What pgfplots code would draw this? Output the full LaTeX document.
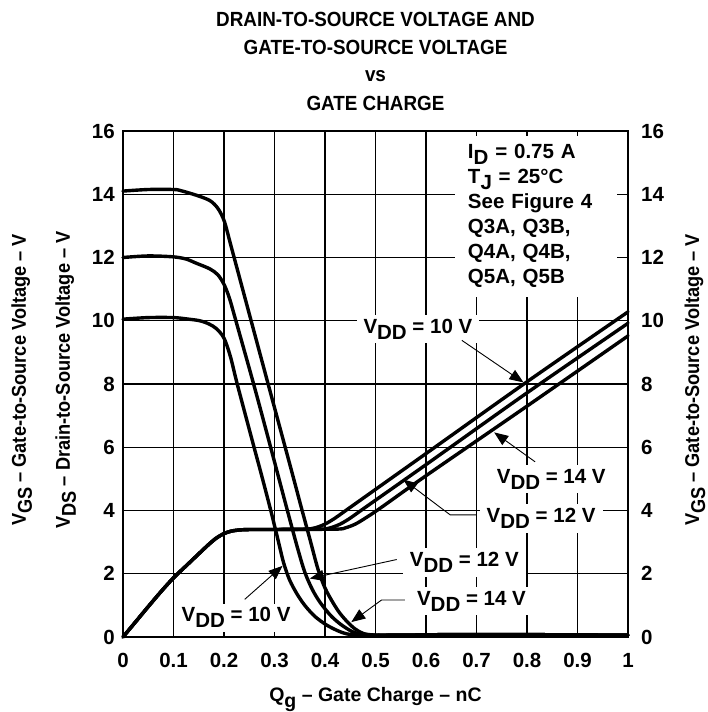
\documentclass[border=0pt]{standalone}
\usepackage{fontspec}
\setmainfont{Liberation Sans}
\newfontfamily\condfont{Liberation Sans}[FakeStretch=0.91, Ligatures=TeX]
\newfontfamily\titlefont{Liberation Sans}[FakeStretch=0.92, Ligatures=TeX]
\usepackage{pgfplots}
\pgfplotsset{compat=1.18}
\usetikzlibrary{arrows.meta}

\newcommand{\sub}[1]{\raisebox{-6pt}{#1}}
\newcommand{\fz}[1]{\fontsize{#1}{#1}\selectfont\bfseries}

\tikzset{
  ann/.style={-{Triangle[length=14pt,width=11pt]}, line width=0.9pt},
  lab/.style={font=\fz{20.5}, fill=white, inner xsep=7pt, inner ysep=4pt, anchor=base west},
  crv/.style={black, line width=3.4pt, line join=round, line cap=round, smooth, no markers}
}

\begin{document}
\begin{tikzpicture}
\useasboundingbox (-123pt,-75pt) rectangle (585pt,637pt);
\begin{axis}[
  scale only axis, width=505pt, height=506pt,
  xmin=0, xmax=1, ymin=0, ymax=16,
  xtick={0,0.1,0.2,0.3,0.4,0.5,0.6,0.7,0.8,0.9,1},
  xticklabels={0,0.1,0.2,0.3,0.4,0.5,0.6,0.7,0.8,0.9,1},
  ytick={0,2,4,6,8,10,12,14,16},
  yticklabels={0,2,4,6,8,10,12,14,16},
  xticklabel style={font=\fz{20.5}, anchor=north, inner sep=0pt, yshift=-16pt},
  yticklabel style={font=\fz{20.5}, anchor=east, inner sep=0pt, xshift=-8pt},
  grid=major, major grid style={black, line width=1.1pt},
  axis line style={black, line width=2.6pt},
  tick align=inside, major tick length=5pt, tick style={black, line width=1.1pt},
  clip=false,
]
% V_DS curves
\addplot[crv] coordinates {(0,10.05) (0.05,10.1) (0.1,10.1) (0.13,10.05) (0.152,10.0) (0.17,9.9) (0.185,9.75) (0.2,9.45) (0.213,8.85) (0.2265,7.98) (0.2595,6.0) (0.273,5.2) (0.291,4.1) (0.305,3.2) (0.318,2.35) (0.33,1.8) (0.345,1.35) (0.36,1.0) (0.38,0.65) (0.403,0.38) (0.425,0.2) (0.443,0.1) (0.47,0.06) (0.55,0.06) (0.7,0.08) (1,0.06)};
\addplot[crv] coordinates {(0,12.0) (0.05,12.05) (0.1,12.02) (0.125,11.95) (0.145,11.82) (0.172,11.64) (0.188,11.45) (0.2,11.15) (0.21,10.75) (0.22,10.2) (0.2595,7.95) (0.294,5.9) (0.323,4.15) (0.345,2.85) (0.36,2.05) (0.375,1.5) (0.39,1.1) (0.41,0.7) (0.427,0.45) (0.445,0.25) (0.463,0.11) (0.49,0.06) (0.55,0.06) (0.7,0.08) (1,0.06)};
\addplot[crv] coordinates {(0,14.1) (0.05,14.15) (0.1,14.15) (0.113,14.12) (0.145,13.97) (0.172,13.8) (0.188,13.55) (0.201,13.13) (0.215,12.3) (0.284,8.2) (0.333,5.3) (0.353,4.1) (0.37,3.1) (0.386,2.15) (0.4,1.55) (0.416,1.08) (0.43,0.74) (0.446,0.45) (0.46,0.25) (0.476,0.11) (0.5,0.06) (0.55,0.06) (0.7,0.08) (1,0.06)};
% V_GS curves
\addplot[crv] coordinates {(0,0) (0.025,0.48) (0.05,0.96) (0.075,1.43) (0.1,1.87) (0.125,2.25) (0.15,2.63) (0.17,2.93) (0.185,3.13) (0.2,3.27) (0.215,3.35) (0.235,3.39) (0.26,3.4) (0.3,3.4) (0.36,3.41) (0.38,3.45) (0.4,3.57) (0.42,3.76) (0.45,4.1) (0.6,5.8) (0.8,8.07) (1,10.28)};
\addplot[crv] coordinates {(0,0) (0.025,0.48) (0.05,0.96) (0.075,1.43) (0.1,1.87) (0.125,2.25) (0.15,2.63) (0.17,2.93) (0.185,3.13) (0.2,3.27) (0.215,3.35) (0.235,3.39) (0.26,3.4) (0.3,3.4) (0.39,3.41) (0.41,3.45) (0.43,3.57) (0.45,3.76) (0.48,4.1) (0.6,5.45) (0.8,7.72) (1,9.92)};
\addplot[crv] coordinates {(0,0) (0.025,0.48) (0.05,0.96) (0.075,1.43) (0.1,1.87) (0.125,2.25) (0.15,2.63) (0.17,2.93) (0.185,3.13) (0.2,3.27) (0.215,3.35) (0.235,3.39) (0.26,3.4) (0.3,3.4) (0.42,3.41) (0.44,3.45) (0.46,3.57) (0.48,3.76) (0.51,4.08) (0.6,5.1) (0.8,7.3) (1,9.52)};

% conditions box
\node[fill=white, anchor=north west, inner xsep=13pt, inner ysep=9pt, text width=136pt, align=left,
      font=\fontsize{20.5}{25}\selectfont\bfseries] at (axis cs:0.657,15.86)
  {I\sub{D} = 0.75 A\\ T\sub{J} = 25°C\\ See Figure 4\\ Q3A, Q3B,\\ Q4A, Q4B,\\ Q5A, Q5B};

% labels and arrows
\node[lab] at (axis cs:0.462,9.6) {V\sub{DD} = 10 V};
\draw[ann] (axis cs:0.671,9.38) -- (axis cs:0.793,8.05);
\node[lab] at (axis cs:0.726,4.86) {V\sub{DD} = 14 V};
\draw[ann] (axis cs:0.816,5.54) -- (axis cs:0.735,6.47);
\node[lab] at (axis cs:0.706,3.62) {V\sub{DD} = 12 V};
\draw[ann] (axis cs:0.70,3.86) -- (axis cs:0.648,3.86) -- (axis cs:0.555,4.98);
\node[lab] at (axis cs:0.554,2.22) {V\sub{DD} = 12 V};
\draw[ann] (axis cs:0.542,2.45) -- (axis cs:0.37,1.85);
\node[lab] at (axis cs:0.568,1.01) {V\sub{DD} = 14 V};
\draw[ann] (axis cs:0.558,1.17) -- (axis cs:0.512,1.17) -- (axis cs:0.452,0.47);
\node[lab] at (axis cs:0.102,0.48) {V\sub{DD} = 10 V};
\draw[ann] (axis cs:0.241,1.19) -- (axis cs:0.316,2.25);
\end{axis}

% right hand scale
\begin{axis}[
  scale only axis, width=505pt, height=506pt,
  xmin=0, xmax=1, ymin=0, ymax=16,
  hide x axis, axis y line*=right, y axis line style={draw=none},
  ytick={0,2,4,6,8,10,12,14,16},
  yticklabels={0,2,4,6,8,10,12,14,16},
  yticklabel style={font=\fz{20.5}, anchor=west, inner sep=0pt, xshift=13pt},
  major tick length=0pt,
]
\end{axis}

% title and axis labels
\begin{scope}[every node/.style={inner sep=0pt, anchor=base, font=\titlefont\fontsize{20.5}{20.5}\selectfont\bfseries}]
\node at (252.5pt,610pt) {DRAIN-TO-SOURCE VOLTAGE AND};
\node at (252.5pt,582pt) {GATE-TO-SOURCE VOLTAGE};
\node at (252.5pt,555pt) {vs};
\node at (252.5pt,526pt) {GATE CHARGE};
\end{scope}
\node[inner sep=0pt, anchor=base, font=\fz{19.5}] at (252.5pt,-64pt) {Q\sub{g} -- Gate Charge -- nC};
\begin{scope}[every node/.style={inner sep=0pt, anchor=base, rotate=90, font=\condfont\fontsize{20}{20}\selectfont\bfseries}]
\node at (-97pt,257pt) {V\sub{GS} -- Gate-to-Source Voltage -- V};
\node at (-53pt,257pt) {V\sub{DS} -- Drain-to-Source Voltage -- V};
\node at (576pt,257pt) {V\sub{GS} -- Gate-to-Source Voltage -- V};
\end{scope}
\end{tikzpicture}
\end{document}
